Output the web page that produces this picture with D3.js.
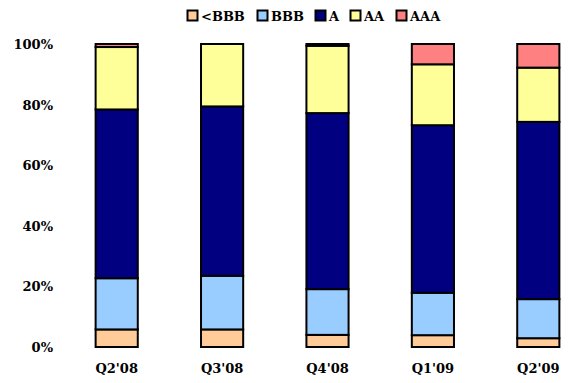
<!DOCTYPE html>
<html>
<head>
<meta charset="utf-8">
<script src="https://cdn.jsdelivr.net/npm/d3@7"></script>
<style>
  html, body { margin: 0; padding: 0; background: #fff; }
  svg { display: block; }
  text { font-family: "DejaVu Serif", serif; font-weight: bold; fill: #000; }
  .lbl { font-family: "DejaVu Serif", serif; font-size: 13px; }
</style>
</head>
<body>
<svg id="chart" width="569" height="383"></svg>
<script>
// Rating mix per quarter, in percent of the portfolio
const quarters = ["Q2'08", "Q3'08", "Q4'08", "Q1'09", "Q2'09"];
const ratings = ["<BBB", "BBB", "A", "AA", "AAA"];
const belowBBB = [5.8, 5.8, 4.0, 3.9, 2.9];
const bbb      = [16.9, 17.7, 15.1, 14.0, 12.9];
const aRated   = [55.7, 55.9, 58.1, 55.3, 58.5];
const aa       = [20.6, 20.6, 22.2, 20.1, 17.9];
const aaa      = [1.0, 0.0, 0.6, 6.7, 7.8];
const yTicks = [0, 20, 40, 60, 80, 100];
const colors = ["#FFCC99", "#99CCFF", "#000080", "#FFFF99", "#FF8080"];

const seriesValues = [belowBBB, bbb, aRated, aa, aaa];
const rows = quarters.map((q, i) => {
  const r = { quarter: q };
  ratings.forEach((k, j) => { r[k] = seriesValues[j][i]; });
  return r;
});

const svg = d3.select("#chart");

const x = d3.scaleBand()
  .domain(quarters)
  .range([64, 591])
  .paddingInner(0.6)
  .paddingOuter(0.3);
const y = d3.scaleLinear().domain([0, 100]).range([347, 44]);

const layers = d3.stack().keys(ratings)(rows);

svg.append("g").selectAll("g.layer")
  .data(layers)
  .join("g")
  .attr("class", "layer")
  .attr("fill", (d, i) => colors[i])
  .selectAll("rect")
  .data(d => d.filter(p => p[1] - p[0] > 0))
  .join("rect")
  .attr("x", d => x(d.data.quarter))
  .attr("width", x.bandwidth())
  .attr("y", d => y(d[1]))
  .attr("height", d => y(d[0]) - y(d[1]))
  .attr("stroke", "#000")
  .attr("stroke-width", 2);

// Y axis labels only (no axis line or ticks)
const ya = svg.append("g").attr("transform", "translate(53,0)")
  .call(d3.axisLeft(y).tickValues(yTicks).tickFormat(d => d + "%").tickSize(0).tickPadding(0));
ya.attr("font-family", null).attr("font-size", null);
ya.select(".domain").remove();
ya.selectAll("text").attr("class", "lbl").attr("dy", "0.35em");

// X axis labels
const xa = svg.append("g").attr("transform", "translate(0,364)")
  .call(d3.axisBottom(x).tickSize(0).tickPadding(0));
xa.attr("font-family", null).attr("font-size", null);
xa.select(".domain").remove();
xa.selectAll("text").attr("class", "lbl").attr("dy", "0.71em");

// Legend
const legendX = [187, 257, 315, 350, 396];
const legend = svg.append("g").selectAll("g")
  .data(ratings)
  .join("g")
  .attr("transform", (d, i) => `translate(${legendX[i]},10)`);
legend.append("rect")
  .attr("x", 0.5).attr("y", 0.5).attr("width", 10).attr("height", 10)
  .attr("fill", (d, i) => colors[i])
  .attr("stroke", "#000").attr("stroke-width", 2);
legend.append("text")
  .attr("class", "lbl")
  .attr("x", 14).attr("y", 11)
  .text(d => d);
</script>
</body>
</html>
